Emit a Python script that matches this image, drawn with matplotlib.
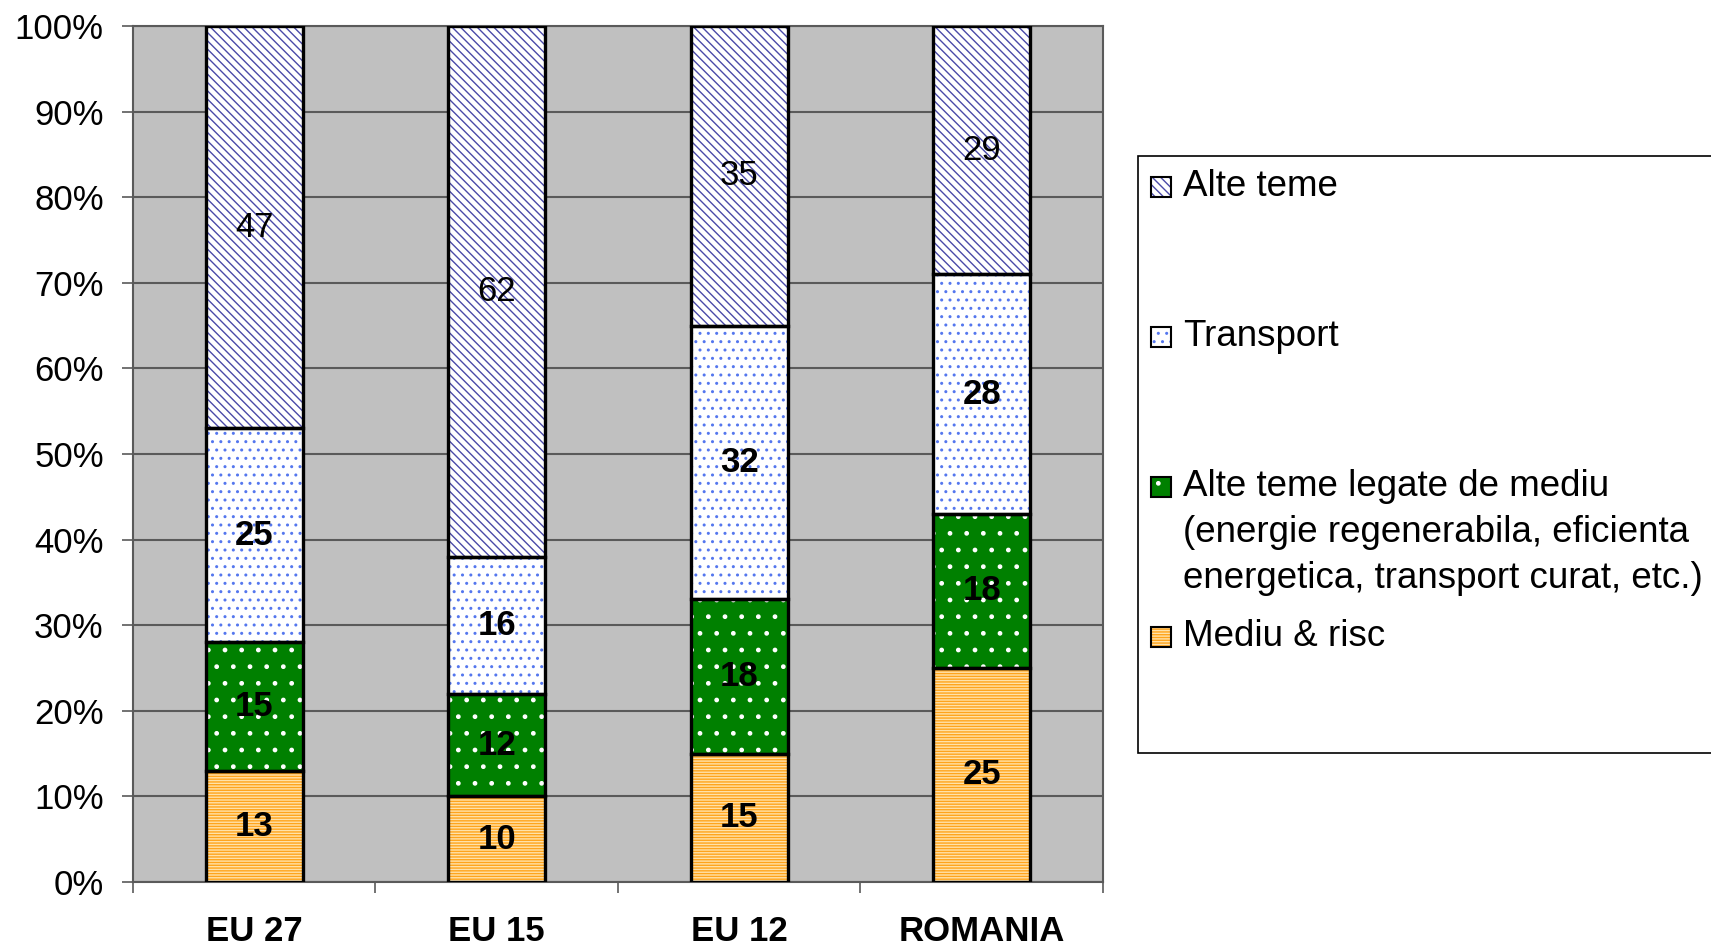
import matplotlib
matplotlib.use('agg')
import matplotlib.pyplot as plt
from matplotlib.patches import Rectangle
from matplotlib.ticker import PercentFormatter
import numpy as np

plt.rcParams['font.family'] = ['Liberation Sans', 'DejaVu Sans']
plt.rcParams['hatch.linewidth'] = 1.0

# data (shares per region, each column sums to 100)
regions = ['EU 27', 'EU 15', 'EU 12', 'ROMANIA']
mediu_risc = [13, 10, 15, 25]
alte_mediu = [15, 12, 18, 18]
transport = [25, 16, 32, 28]
alte_teme = [47, 62, 35, 29]

series_names = [
    'Mediu & risc',
    'Alte teme legate de mediu\n(energie regenerabila, eficienta\nenergetica, transport curat, etc.)',
    'Transport',
    'Alte teme',
]
series_values = [mediu_risc, alte_mediu, transport, alte_teme]

# face colour, hatch colour, hatch pattern, bold label
styles = [
    ('#FFE2AA', '#FFA41C', '------', True),
    ('#008000', '#FFFFFF', '.', True),
    ('#FFFFFF', '#5577EE', '..', True),
    ('#FFFFFF', '#4A4AA8', '\\\\\\\\', False),
]

fig = plt.figure(figsize=(17.11, 9.5), dpi=100)
ax = fig.add_axes([0.0777, 0.0716, 0.5669, 0.9011])
ax.set_facecolor('#C0C0C0')

x = np.arange(len(regions))
width = 0.4
bottom = np.zeros(len(regions))
for vals, (face, hcol, hatch, bold) in zip(series_values, styles):
    vals = np.array(vals, dtype=float)
    ax.bar(x, vals, width, bottom=bottom, color=face, edgecolor=hcol,
           hatch=hatch, linewidth=0, zorder=3)
    ax.bar(x, vals, width, bottom=bottom, fill=False, edgecolor='black',
           linewidth=2.4, zorder=4)
    for xi, b, v in zip(x, bottom, vals):
        ax.text(xi, b + v / 2, '%d' % v, ha='center', va='center',
                fontsize=25, fontweight='bold' if bold else 'normal',
                color='black', zorder=5)
    bottom += vals

ax.set_xlim(-0.5, len(regions) - 0.5)
ax.set_ylim(0, 100)
ax.set_yticks(np.arange(0, 101, 10))
ax.yaxis.set_major_formatter(PercentFormatter(decimals=0))
ax.grid(axis='y', color='#5a5a5a', linewidth=1.5, zorder=1)
ax.set_axisbelow(True)

ax.set_xticks(x)
ax.set_xticklabels(regions, fontsize=25, fontweight='bold')
ax.set_xticks(np.arange(-0.5, len(regions), 1), minor=True)
ax.tick_params(axis='x', which='major', length=0, pad=24)
ax.tick_params(axis='x', which='minor', length=8, width=1.2, color='#5a5a5a')
ax.tick_params(axis='y', length=8, width=1.2, color='#5a5a5a', pad=13,
               labelsize=25)
for s in ax.spines.values():
    s.set_color('#5a5a5a')
    s.set_linewidth(1.5)

# legend drawn by hand so the multi-line entry keeps its marker on the first line
fig.add_artist(Rectangle((0.665, 0.2074), 0.4, 0.6284, transform=fig.transFigure,
                         facecolor='white', edgecolor='black', linewidth=1.2))
px_w, px_h = 1 / 1711, 1 / 950
for i, (name, (face, hcol, hatch, bold)) in enumerate(
        zip(series_names[::-1], styles[::-1])):
    yc = 1 - (187 + 150 * i) * px_h
    fig.add_artist(Rectangle((0.6727, yc - 10 * px_h), 20 * px_w, 20 * px_h,
                             transform=fig.transFigure, facecolor=face,
                             edgecolor=hcol, hatch=hatch, linewidth=0))
    fig.add_artist(Rectangle((0.6727, yc - 10 * px_h), 20 * px_w, 20 * px_h,
                             transform=fig.transFigure, fill=False,
                             edgecolor='black', linewidth=1.5))
    for j, line in enumerate(name.split('\n')):
        fig.text(0.6915, yc - j * 46 * px_h, line, fontsize=26.5, va='center',
                 ha='left')

fig.savefig('out.png', dpi=100)
